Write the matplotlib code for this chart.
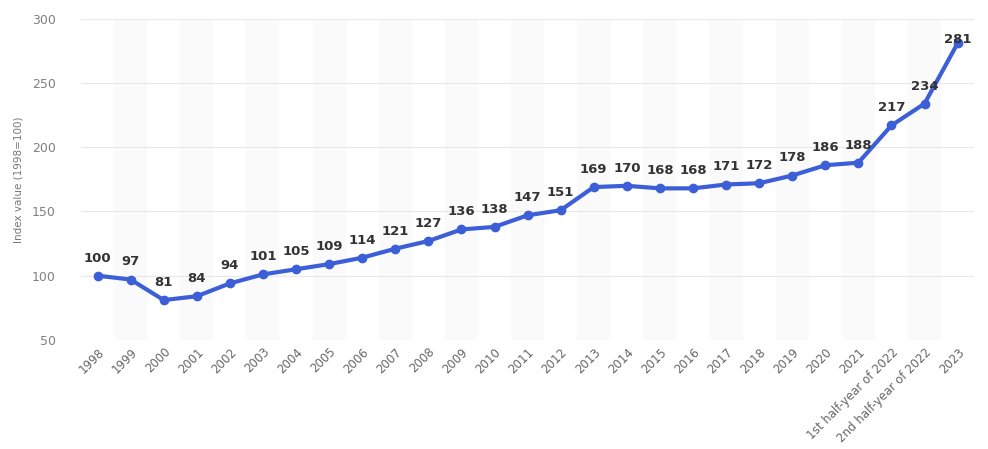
import matplotlib.pyplot as plt
import numpy as np

categories = [
    "1998", "1999", "2000", "2001", "2002", "2003", "2004", "2005", "2006",
    "2007", "2008", "2009", "2010", "2011", "2012", "2013", "2014", "2015",
    "2016", "2017", "2018", "2019", "2020", "2021",
    "1st half-year of 2022", "2nd half-year of 2022", "2023",
]
values = [
    100, 97, 81, 84, 94, 101, 105, 109, 114, 121, 127, 136, 138, 147, 151,
    169, 170, 168, 168, 171, 172, 178, 186, 188, 217, 234, 281,
]
y_ticks = [50, 100, 150, 200, 250, 300]

LINE_COLOR = "#3c5fd8"
Y_MAX = 300

figure = plt.figure(figsize=(9.88, 4.49), dpi=100)
axis = figure.add_axes([0.082, 0.243, 0.904, 0.715])
x = np.arange(len(categories))

for i in x[1::2]:
    axis.axvspan(i - 0.5, i + 0.5, color="#fafafa", zorder=0, lw=0)

axis.plot(x, values, color=LINE_COLOR, lw=3, marker="o", markersize=6, zorder=3,
          solid_capstyle="round")
for xi, v in zip(x, values):
    # labels that would run past the top of the plot sit on the point instead
    offset = 8 if v < Y_MAX - 25 else -2
    axis.annotate(str(v), (xi, v), xytext=(0, offset), textcoords="offset points",
                  ha="center", va="bottom", fontsize=9.5, color="#333333",
                  fontweight="semibold", zorder=4)

axis.set_xlim(-0.5, len(categories) - 0.5)
axis.set_ylim(50, Y_MAX)
axis.set_yticks(y_ticks)
axis.set_xticks(x, categories, rotation=45, ha="right", rotation_mode="anchor")
axis.tick_params(axis="x", length=0, labelsize=8.5, labelcolor="#666666", pad=4)
axis.tick_params(axis="y", length=0, labelsize=9, labelcolor="#808080", pad=18)
axis.grid(axis="y", color="#e8e8e8", lw=0.8, zorder=1)
axis.set_axisbelow(True)
for spine in axis.spines.values():
    spine.set_visible(False)
axis.set_ylabel("Index value (1998=100)", fontsize=7.5, color="#777777", labelpad=6)

figure.savefig("out.png", dpi=100)
